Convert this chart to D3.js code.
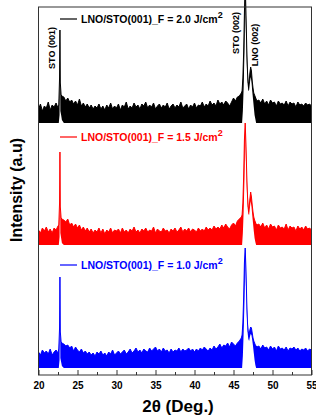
<!DOCTYPE html>
<html>
<head>
<meta charset="utf-8">
<script src="https://cdn.jsdelivr.net/npm/d3@7"></script>
<style>
  body { margin: 0; background: #fff; }
  text { font-family: "Liberation Sans", Arial, sans-serif; font-weight: bold; }
</style>
</head>
<body>
<div id="chart"></div>
<script>
// sample grid (2θ, deg): coarse in the background, finer around the peaks
const gridA = d3.range(20, 22.51, 0.25)
const gridB = [22.6, 22.7, 22.75, 22.8, 22.9, 23.0]
const gridC = d3.range(23.25, 46.01, 0.25)
const gridD = d3.range(46.1, 48.01, 0.1)
const gridE = d3.range(48.25, 55.01, 0.25)
const twoTheta = [].concat(gridA, gridB, gridC, gridD, gridE).map(v => +v.toFixed(2))

// top of the noisy trace (a.u. above each trace's own baseline)
const hiF20 = [
  14, 19, 12, 17, 15, 21, 13, 18, 16, 20, 15,
  18, 45, 93, 40, 28, 27,
  26, 22, 25,
  21, 23, 19, 22,  18, 24, 17, 20,  16, 19, 15, 18,  14, 17, 15, 19,
  14, 17, 13, 18,  15, 20, 14, 17,  15, 19, 13, 18,  16, 21, 14, 17,
  15, 20, 16, 18,  14, 19, 17, 21,  15, 18, 16, 20,  14, 17, 19, 15,
  18, 16, 20, 14,  17, 19, 15, 18,  16, 21, 15, 17,  19, 14, 18, 16,
  20, 15, 18, 17,  21, 16, 19, 17,  22, 18, 20, 17,  23, 19, 21, 18,
  22, 20, 17, 21,  25, 22, 26, 27,
  30,
  32, 45, 70, 110, 140, 110, 75, 50, 40, 40, 50, 56, 52, 42, 35, 30, 28, 26, 24, 22,
  23, 20, 24, 19, 22, 18, 23, 20, 21, 17, 22, 19, 20, 18,
  22, 17, 21, 19, 20, 16, 21, 18, 19, 17, 20, 18, 19, 17
]
const hiF15 = [
  15, 12, 17, 14, 18, 13, 16, 12, 17, 15, 19,
  20, 42, 93, 38, 27, 26,
  25, 23, 26,
  20, 22, 18, 21,  17, 20, 15, 18,  14, 17, 13, 16,  12, 15, 13, 17,
  12, 16, 11, 15,  13, 17, 12, 15,  14, 16, 12, 17,  13, 15, 12, 16,
  14, 18, 13, 15,  12, 16, 14, 17,  13, 15, 14, 18,  12, 16, 14, 13,
  17, 14, 15, 12,  16, 14, 17, 13,  15, 18, 13, 16,  14, 17, 13, 16,
  15, 13, 17, 14,  16, 14, 18, 15,  17, 15, 19, 16,  18, 16, 20, 17,
  21, 18, 16, 20,  22, 19, 24, 26,
  28,
  30, 42, 68, 105, 122, 100, 70, 48, 38, 37, 46, 53, 48, 40, 33, 28, 25, 23, 21, 20,
  21, 18, 22, 17, 20, 16, 21, 18, 19, 15, 20, 17, 18, 16,
  21, 15, 19, 17, 18, 14, 19, 16, 18, 15, 19, 16, 17, 15
]
const hiF10 = [
  16, 13, 18, 15, 17, 14, 19, 13, 16, 18, 15,
  19, 40, 91, 36, 26, 25,
  24, 22, 23,
  20, 22, 17, 21,  18, 16, 19, 15,  17, 14, 16, 13,  15, 12, 16, 14,
  17, 13, 15, 12,  16, 14, 18, 13,  15, 17, 14, 16,  18, 14, 16, 19,
  15, 17, 20, 16,  18, 15, 19, 17,  16, 20, 17, 19,  21, 17, 19, 16,
  20, 17, 18, 15,  19, 16, 18, 17,  20, 16, 19, 17,  18, 20, 17, 19,
  16, 19, 17, 20,  18, 21, 19, 17,  20, 18, 22, 19,  21, 24, 20, 23,
  22, 25, 21, 26,  24, 22, 25, 27,
  30,
  33, 45, 70, 105, 120, 98, 66, 44, 36, 34, 38, 41, 40, 35, 30, 27, 25, 23, 22, 21,
  22, 19, 23, 20, 21, 18, 22, 19, 21, 17, 22, 19, 20, 18,
  21, 17, 20, 19, 21, 18, 20, 17, 19, 18, 20, 17, 19, 18
]

// bottom of the trace where it lifts off the baseline (peak regions B and D)
const loF20 = { B: [0, 8, 85, 12, 8, 3], D: [0, 12, 35, 70, 120, 90, 60, 40, 32, 33, 40, 46, 42, 32, 24, 16, 8, 4, 0, 0] }
const loF15 = { B: [0, 8, 84, 12, 7, 2], D: [0, 12, 33, 65, 112, 84, 58, 38, 31, 30, 37, 44, 39, 30, 22, 14, 7, 3, 0, 0] }
const loF10 = { B: [0, 8, 82, 10, 6, 2], D: [0, 12, 35, 65, 110, 82, 55, 36, 29, 27, 31, 34, 33, 28, 22, 15, 8, 3, 0, 0] }

const seriesNames = ["LNO/STO(001)_F = 2.0 J/cm", "LNO/STO(001)_F = 1.5 J/cm", "LNO/STO(001)_F = 1.0 J/cm"]
const seriesColors = ["#000000", "#ff0000", "#0000ff"]
const seriesOffsets = [252, 130, 7]

const peakNames = ["STO (001)", "STO (002)", "LNO (002)"]
const peakPositions = [22.75, 46.5, 47.2]

const xTicks = [20, 25, 30, 35, 40, 45, 50, 55]
const xMinorTicks = [22.5, 27.5, 32.5, 37.5, 42.5, 47.5, 52.5]

function buildLo(lo){
  return [].concat(gridA.map(() => 0), lo.B, gridC.map(() => 0), lo.D, gridE.map(() => 0))
}

const his = [hiF20, hiF15, hiF10]
const los = [loF20, loF15, loF10].map(buildLo)

let width = 316
let height = 416
let plotLeft = 38.5, plotRight = 311.5, plotTop = 7, plotBottom = 375

let svg = d3.select("#chart")
  .append("svg")
  .attr("width", width)
  .attr("height", height)

let x = d3.scaleLinear()
  .domain([20, 55])
  .range([plotLeft, plotRight])

let y = d3.scaleLinear()
  .domain([0, 368])
  .range([plotBottom, plotTop])

//traces
his.forEach(function(hi, i){
  let rows = twoTheta.map((t, j) => ({t: t, hi: hi[j] + seriesOffsets[i], lo: los[i][j] + seriesOffsets[i]}))

  let area = d3.area()
    .x(d => x(d.t))
    .y0(d => y(d.lo))
    .y1(d => y(d.hi))

  let line = d3.line()
    .x(d => x(d.t))
    .y(d => y(d.hi))

  svg.append("path")
    .datum(rows)
    .attr("d", area)
    .attr("fill", seriesColors[i])

  svg.append("path")
    .datum(rows)
    .attr("d", line)
    .attr("fill", "none")
    .attr("stroke", seriesColors[i])
    .attr("stroke-width", 1)
})

//frame
svg.append("rect")
  .attr("x", plotLeft)
  .attr("y", plotTop)
  .attr("width", plotRight - plotLeft)
  .attr("height", plotBottom - plotTop)
  .attr("fill", "none")
  .attr("stroke", "#333")
  .attr("stroke-width", 1)

//x axis, ticks pointing inwards
let xAxis = svg.append("g")
  .attr("transform", "translate(0," + plotBottom + ")")
  .call(d3.axisBottom(x).tickValues(xTicks).tickSize(-5).tickPadding(7).tickFormat(d3.format("d")))
xAxis.select(".domain").remove()
xAxis.selectAll("line").attr("stroke", "#333")
xAxis.selectAll("text")
  .style("font-size", "10px")
  .style("font-family", "Liberation Sans, Arial, sans-serif")
  .style("font-weight", "bold")
  .attr("fill", "#000")

let xMinor = svg.append("g")
  .attr("transform", "translate(0," + plotBottom + ")")
  .call(d3.axisBottom(x).tickValues(xMinorTicks).tickSize(-3).tickFormat(""))
xMinor.select(".domain").remove()
xMinor.selectAll("line").attr("stroke", "#333")

//legends
let legendY = [19, 137, 265]
seriesNames.forEach(function(name, i){
  svg.append("line")
    .attr("x1", 60)
    .attr("x2", 77)
    .attr("y1", legendY[i])
    .attr("y2", legendY[i])
    .attr("stroke", seriesColors[i])
    .attr("stroke-width", 1.2)

  let t = svg.append("text")
    .attr("x", 81)
    .attr("y", legendY[i] + 4)
    .attr("fill", seriesColors[i])
    .style("font-size", "10.5px")
  t.append("tspan").text(name)
  t.append("tspan")
    .text("2")
    .attr("dy", -5)
    .style("font-size", "9px")
})

//peak labels
let peakDx = [-8, -9, 4]
let peakCy = [48, 33, 45]
peakNames.forEach(function(name, i){
  let cx = x(peakPositions[i]) + peakDx[i]
  svg.append("text")
    .text(name)
    .attr("transform", "translate(" + cx + "," + peakCy[i] + ") rotate(-90)")
    .attr("text-anchor", "middle")
    .attr("dy", "0.35em")
    .style("font-size", "9px")
})

//axis titles
svg.append("text")
  .text("2θ (Deg.)")
  .attr("x", 178)
  .attr("y", 412)
  .attr("text-anchor", "middle")
  .style("font-size", "17px")

svg.append("text")
  .text("Intensity (a.u)")
  .attr("transform", "translate(22,190) rotate(-90)")
  .attr("text-anchor", "middle")
  .style("font-size", "16px")
</script>
</body>
</html>
